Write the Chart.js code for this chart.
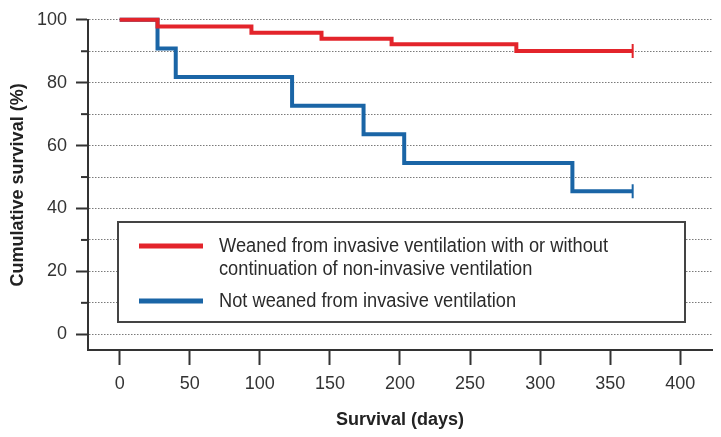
<!DOCTYPE html>
<html>
<head>
<meta charset="utf-8">
<script src="https://cdn.jsdelivr.net/npm/chart.js@4"></script>
<style>
  html,body{margin:0;padding:0;background:#fff;}
  #wrap{width:721px;height:437px;position:relative;}
</style>
</head>
<body>
<div id="wrap"><canvas id="km"></canvas></div>
<script>
// Kaplan-Meier steps (days, cumulative survival %)
const weanedDays = [0, 27, 94, 144, 194, 283, 366];
const weanedSurv = [100, 97.9, 95.9, 94.0, 92.2, 90.1, 90.1];
const notWeanedDays = [0, 27, 40, 123, 174, 203, 323, 366];
const notWeanedSurv = [100, 90.9, 81.8, 72.7, 63.6, 54.5, 45.5, 45.5];

const seriesNames = [
  ['Weaned from invasive ventilation with or without', 'continuation of non-invasive ventilation'],
  ['Not weaned from invasive ventilation']
];
const xTicks = [0, 50, 100, 150, 200, 250, 300, 350, 400];
const yTicks = [0, 10, 20, 30, 40, 50, 60, 70, 80, 90, 100];
const yLabelled = [0, 20, 40, 60, 80, 100];

const red = '#e3242b';
const blue = '#1a65a6';
const axisCol = '#333';
const font = '"Liberation Sans", Arial, sans-serif';

function toPoints(xs, ys){
  return xs.map((x, i) => ({x: x, y: ys[i]}));
}
// censor mark only on the last point
function endMark(arr, r){
  return arr.map((_, i) => i === arr.length - 1 ? r : 0);
}

// minor y ticks are shorter, and the legend sits in a framed box
const kmExtras = {
  id: 'kmExtras',
  beforeDatasetsDraw(chart){
    const ctx = chart.ctx;
    const y = chart.scales.y;
    const left = chart.chartArea.left;
    ctx.save();
    ctx.strokeStyle = axisCol;
    ctx.lineWidth = 2;
    yTicks.forEach(v => {
      if (yLabelled.includes(v)) return;
      const py = y.getPixelForValue(v);
      ctx.beginPath();
      ctx.moveTo(left - 7, py);
      ctx.lineTo(left, py);
      ctx.stroke();
    });

    // legend box
    const bx = 118, by = 222, bw = 567, bh = 100;
    ctx.fillStyle = '#fff';
    ctx.fillRect(bx, by, bw, bh);
    ctx.strokeStyle = '#444';
    ctx.lineWidth = 2;
    ctx.strokeRect(bx, by, bw, bh);

    const cols = [red, blue];
    const sampleY = [246, 301];
    const baselines = [[252, 275], [307]];
    ctx.font = '20px ' + font;
    const natural = ctx.measureText(seriesNames[0][0]).width;
    const sx = 389 / natural;
    cols.forEach((c, i) => {
      ctx.strokeStyle = c;
      ctx.lineWidth = 5;
      ctx.beginPath();
      ctx.moveTo(139, sampleY[i]);
      ctx.lineTo(203, sampleY[i]);
      ctx.stroke();
      ctx.fillStyle = '#2b2b2b';
      ctx.textBaseline = 'alphabetic';
      seriesNames[i].forEach((line, j) => {
        ctx.save();
        ctx.translate(219, baselines[i][j]);
        ctx.scale(sx, 1);
        ctx.fillText(line, 0, 0);
        ctx.restore();
      });
    });
    ctx.restore();
  }
};

new Chart(document.getElementById('km'), {
  type: 'line',
  data: {
    datasets: [
      {
        data: toPoints(weanedDays, weanedSurv),
        borderColor: red,
        backgroundColor: red,
        borderWidth: 4,
        stepped: 'before',
        pointStyle: 'line',
        rotation: 90,
        pointRadius: endMark(weanedDays, 7),
        pointBorderWidth: 2,
        pointBorderColor: red,
        clip: 8
      },
      {
        data: toPoints(notWeanedDays, notWeanedSurv),
        borderColor: blue,
        backgroundColor: blue,
        borderWidth: 4,
        stepped: 'before',
        pointStyle: 'line',
        rotation: 90,
        pointRadius: endMark(notWeanedDays, 7),
        pointBorderWidth: 2,
        pointBorderColor: blue,
        clip: 8
      }
    ]
  },
  options: {
    responsive: true,
    maintainAspectRatio: false,
    animation: false,
    layout: {padding: {top: 13, right: 4, left: 0, bottom: 0}},
    plugins: {legend: {display: false}, tooltip: {enabled: false}},
    scales: {
      x: {
        type: 'linear',
        min: -22.6,
        max: 422.6,
        afterBuildTicks: s => { s.ticks = xTicks.map(v => ({value: v})); },
        afterFit: s => { s.height = 87; },
        grid: {drawOnChartArea: false, drawTicks: true, tickLength: 15, tickColor: axisCol, tickWidth: 2},
        border: {display: true, color: axisCol, width: 2},
        ticks: {color: axisCol, padding: 8, maxRotation: 0, font: {family: font, size: 18}},
        title: {display: true, text: 'Survival (days)', color: '#222', padding: {bottom: 6, top: 0},
          font: {family: font, size: 18, weight: 'bold'}}
      },
      y: {
        type: 'linear',
        min: -5,
        max: 100,
        afterBuildTicks: s => { s.ticks = yTicks.map(v => ({value: v})); },
        afterFit: s => { s.width = 88; },
        grid: {
          color: '#7a7a7a',
          lineWidth: 1,
          drawTicks: true,
          tickLength: 12,
          tickWidth: 2,
          tickColor: c => yLabelled.includes(c.tick.value) ? axisCol : 'rgba(0,0,0,0)'
        },
        border: {display: true, color: axisCol, width: 2, dash: [1.5, 1.5]},
        ticks: {
          color: axisCol,
          padding: 9,
          font: {family: font, size: 18},
          callback: v => yLabelled.includes(v) ? String(v) : ''
        },
        title: {display: true, text: 'Cumulative survival (%)', color: '#222', padding: {top: 7, bottom: 0},
          font: {family: font, size: 18, weight: 'bold'}}
      }
    }
  },
  plugins: [kmExtras]
});
</script>
</body>
</html>
